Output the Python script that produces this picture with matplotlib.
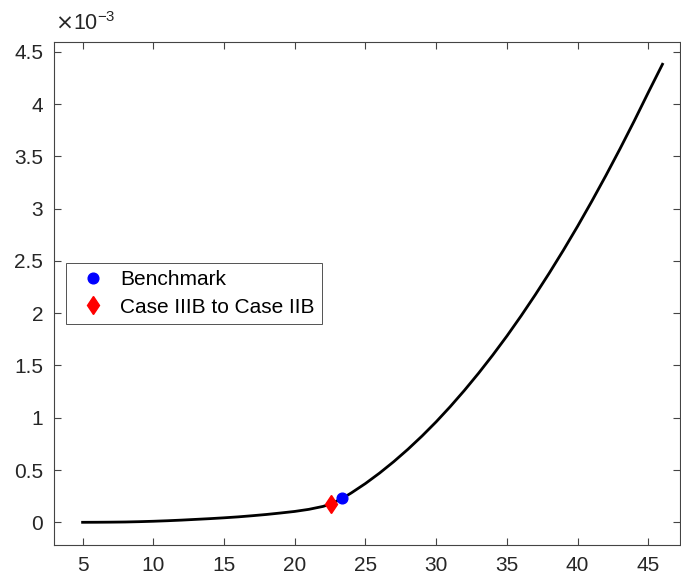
import matplotlib
matplotlib.use("Agg")
import matplotlib.pyplot as plt
import numpy as np

# curve (y in units of 1e-3)
x_curve = [5, 6, 7, 8, 9, 10, 11, 12, 13, 14, 15, 16, 17, 18, 19, 20, 21, 22,
           22.54, 23.37, 24, 25, 26, 27, 28, 29, 30, 31, 32, 33, 34, 35, 36,
           37, 38, 39, 40, 41, 42, 43, 44, 45, 46]
y_curve = [0, 0.0005, 0.0015, 0.003, 0.006, 0.010, 0.015, 0.021, 0.028, 0.035,
           0.043, 0.052, 0.063, 0.075, 0.089, 0.104, 0.124, 0.152,
           0.175, 0.229, 0.281, 0.371, 0.471, 0.580, 0.698, 0.825, 0.961,
           1.107, 1.262, 1.426, 1.599, 1.781, 1.973, 2.174, 2.384, 2.603,
           2.831, 3.069, 3.316, 3.572, 3.837, 4.111, 4.38]

bench_x, bench_y = [23.37], [0.229]
switch_x, switch_y = [22.54], [0.175]

xticks = [5, 10, 15, 20, 25, 30, 35, 40, 45]
yticks = [0, 0.5, 1, 1.5, 2, 2.5, 3, 3.5, 4, 4.5]

plt.rcParams['font.family'] = ['Liberation Sans', 'DejaVu Sans']
dark = '#262626'

fig = plt.figure(figsize=(6.81, 5.81), dpi=100)
ax = fig.add_axes([54.3/681, 36/581, (680-54.3)/681, (545-42.3)/581])

ax.plot(x_curve, y_curve, color='black', lw=2, zorder=2)
ax.plot(bench_x, bench_y, 'o', color='#0000ff', markersize=7.7, ls='none',
        label='Benchmark', zorder=3)
ax.plot(switch_x, switch_y, 'd', color='#ff0000', markersize=9.5, ls='none',
        label='Case IIIB to Case IIB', zorder=3)

ax.set_xlim(3, 47.24)
ax.set_ylim(-0.217, 4.59)
ax.set_xticks(xticks)
ax.set_yticks(yticks)
ax.set_xticklabels([f'{v:g}' for v in xticks])
ax.set_yticklabels([f'{v:g}' for v in yticks])
ax.tick_params(direction='in', length=5, width=0.8, colors='#444444',
               labelcolor=dark, labelsize=15, top=True, right=True, pad=8)
for s in ax.spines.values():
    s.set_color('#444444')
    s.set_linewidth(0.8)

fig.text(55/681, 1 - 30/581, r'$\times$10$^{\mathregular{-3}}$', color=dark,
         fontsize=15.5, va='baseline', ha='left')

leg = ax.legend(loc='upper left', bbox_to_anchor=(66/681, 1 - 263/581),
                bbox_transform=fig.transFigure, fontsize=15, frameon=True,
                fancybox=False, borderaxespad=0, handlelength=1.9,
                handletextpad=0.33, borderpad=0.35, labelspacing=0.4)
leg.get_frame().set_edgecolor(dark)
leg.get_frame().set_linewidth(0.7)

fig.savefig('out.png', dpi=100)
